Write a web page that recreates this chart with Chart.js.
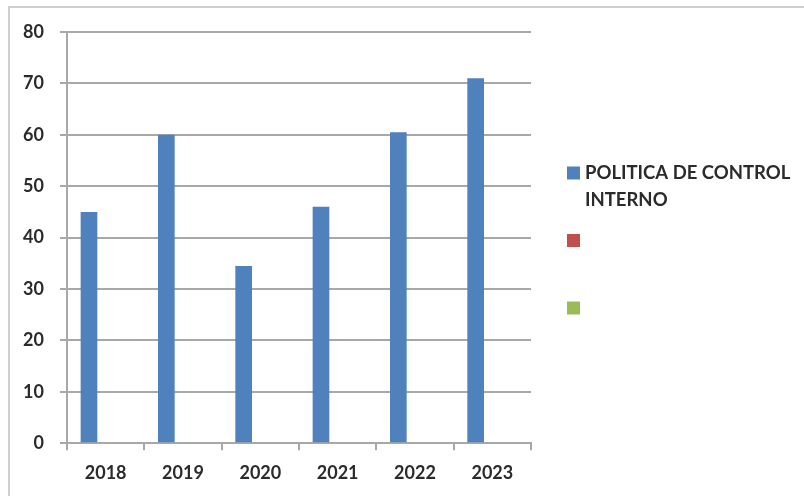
<!DOCTYPE html>
<html>
<head>
<meta charset="utf-8">
<script src="https://cdn.jsdelivr.net/npm/chart.js@4/dist/chart.umd.min.js"></script>
<style>
  html, body { margin: 0; padding: 0; background: #ffffff; }
  #wrap { width: 804px; height: 496px; position: relative; }
</style>
</head>
<body>
<div id="wrap"><canvas id="c" width="804" height="496"></canvas></div>
<script>
// ---- data ----
const categories = ['2018', '2019', '2020', '2021', '2022', '2023'];
const seriesNames = ['POLITICA DE CONTROL INTERNO', '', ''];
const politicaValues = [45, 60, 34.5, 46, 60.5, 71];
const serie2Values = [null, null, null, null, null, null];
const serie3Values = [null, null, null, null, null, null];
const yTicks = [0, 10, 20, 30, 40, 50, 60, 70, 80];
const seriesColors = ['#4F81BD', '#C0504D', '#9BBB59'];

const FONT = 'Lato, "Open Sans", sans-serif';
const TEXT = '#2b2b2b';
const GRID = '#a8a8a8';

const frame = {
  id: 'frame',
  beforeDraw(chart) {
    const ctx = chart.ctx;
    ctx.save();
    ctx.fillStyle = '#ffffff';
    ctx.fillRect(0, 0, chart.width, chart.height);
    ctx.strokeStyle = '#cfcfcf';
    ctx.lineWidth = 2;
    ctx.beginPath();
    ctx.moveTo(9, 496);
    ctx.lineTo(9, 7);
    ctx.lineTo(804, 7);
    ctx.stroke();
    ctx.restore();
  }
};

function wrapText(ctx, text, maxW) {
  const words = text.split(' ');
  const lines = [];
  let cur = '';
  for (const w of words) {
    const t = cur ? cur + ' ' + w : w;
    if (ctx.measureText(t).width > maxW && cur) { lines.push(cur); cur = w; }
    else cur = t;
  }
  if (cur) lines.push(cur);
  return lines;
}

const sideLegend = {
  id: 'sideLegend',
  afterDraw(chart) {
    const ctx = chart.ctx;
    ctx.save();
    ctx.font = 'bold 18.5px ' + FONT;
    ctx.textBaseline = 'middle';
    ctx.textAlign = 'left';
    const boxX = 567, box = 13, textX = 585, lineH = 27.3;
    const centers = [173, 240.5, 308];
    chart.data.datasets.forEach((ds, i) => {
      const cy = centers[i];
      ctx.fillStyle = ds.backgroundColor;
      ctx.fillRect(boxX, cy - box / 2, box, box);
      if (ds.label) {
        ctx.fillStyle = TEXT;
        const lines = wrapText(ctx, ds.label, 212);
        lines.forEach((ln, k) => ctx.fillText(ln, textX, cy + k * lineH));
      }
    });
    ctx.restore();
  }
};

new Chart(document.getElementById('c'), {
  type: 'bar',
  data: {
    labels: categories,
    datasets: [
      { label: seriesNames[0], data: politicaValues, backgroundColor: seriesColors[0] },
      { label: seriesNames[1], data: serie2Values, backgroundColor: seriesColors[1] },
      { label: seriesNames[2], data: serie3Values, backgroundColor: seriesColors[2] }
    ]
  },
  options: {
    responsive: false,
    animation: false,
    devicePixelRatio: 1,
    layout: { padding: { left: 0, top: 32, right: 273, bottom: 0 } },
    datasets: { bar: { categoryPercentage: 0.647, barPercentage: 1.0 } },
    plugins: {
      legend: { display: false },
      tooltip: { enabled: false }
    },
    scales: {
      x: {
        offset: true,
        afterFit: s => { s.height = 52.7; },
        grid: {
          offset: true,
          drawOnChartArea: false,
          drawTicks: true,
          tickLength: 7,
          color: GRID,
          lineWidth: 2
        },
        border: { display: true, color: GRID, width: 2 },
        ticks: {
          padding: 12,
          color: TEXT,
          font: { family: FONT, size: 18, weight: 'bold' },
          maxRotation: 0
        }
      },
      y: {
        min: 0,
        max: 80,
        afterFit: s => { s.width = 67; },
        afterBuildTicks: s => { s.ticks = yTicks.map(v => ({ value: v })); },
        grid: {
          color: GRID,
          lineWidth: 2,
          tickLength: 7,
          drawTicks: true
        },
        border: { display: true, color: GRID, width: 2 },
        ticks: {
          padding: 16,
          color: TEXT,
          font: { family: FONT, size: 18, weight: 'bold' }
        }
      }
    }
  },
  plugins: [frame, sideLegend]
});
</script>
</body>
</html>
